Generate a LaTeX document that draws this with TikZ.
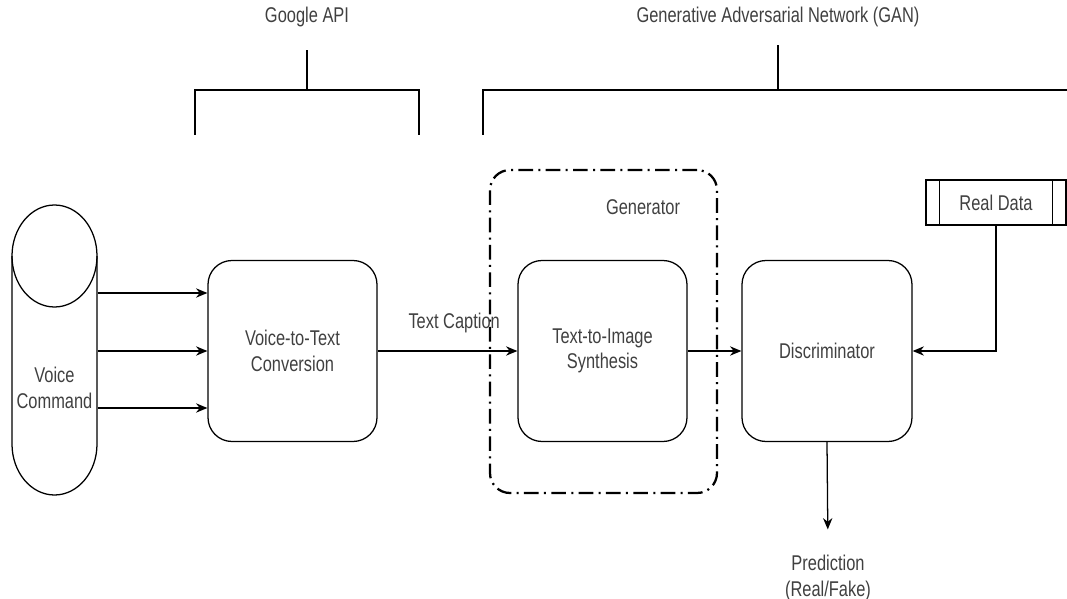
\documentclass[tikz,border=0pt]{standalone}
\usepackage{fontspec}
\setmainfont{Liberation Sans}[FakeStretch=0.77]
\usetikzlibrary{arrows.meta,positioning,calc}

\begin{document}
\begin{tikzpicture}[x=0.75pt,y=-0.75pt,line width=0.95pt,
  font=\fontsize{16}{19}\selectfont,>={Stealth[length=8.5pt,width=7pt]},
  blk/.style={draw,rounded corners=18pt,align=center,text=black!75,minimum width=126.75pt,minimum height=135.75pt},
  grp/.style={draw,line width=1.7pt,rounded corners=15pt,dash pattern=on 11pt off 4pt on 1.5pt off 4pt,minimum width=170.25pt,minimum height=242.25pt},
  lbl/.style={align=center,text=black!75,inner sep=2pt},
  proc/.style={draw,text=black!75,minimum width=105pt,minimum height=33.75pt}]
  \useasboundingbox (0,0) rectangle (1067,599);

  % voice input, drawn as an upright cylinder
  \node[minimum width=63.75pt,minimum height=217.5pt,inner sep=0pt] (voice) at (54.5,350) {};
  \draw (12,256) -- (12,444) arc[start angle=180,end angle=0,x radius=42.5,y radius=51] -- (97,256);
  \draw (54.5,256) ellipse[x radius=42.5,y radius=51];
  \node[lbl] (voicetxt) at (54.5,388) {Voice\\Command};

  % main blocks
  \node[blk] (v2t) at (292.5,351) {Voice-to-Text\\Conversion};
  \node[grp] (gen) at (603.5,331.5) {};
  \node[lbl] (genlbl) at (643,207) {Generator};
  \node[blk] (t2i) at (602.5,351) {Text-to-Image\\Synthesis};
  \node[blk,minimum width=127.5pt] (disc) at (827,351) {Discriminator};
  \node[proc] (real) at (996,202.5) {Real Data};
  \draw ([xshift=10.5pt]real.north west) -- ([xshift=10.5pt]real.south west);
  \draw ([xshift=-10.5pt]real.north east) -- ([xshift=-10.5pt]real.south east);
  \node[lbl] (pred) at (828,578) {Prediction\\(Real/Fake)};

  % connectors
  \foreach \dy [count=\i] in {-58,0,57} {
    \coordinate (in\i) at ($(v2t.west)+(0,\dy)$);
    \draw[->] (voice.east |- in\i) -- (in\i);
  }
  \draw[->] (v2t) -- node[lbl,above=11pt,xshift=5pt]{Text Caption} (t2i);
  \draw[->] (t2i) -- (disc);
  \draw[->] (real.south) |- (disc.east);
  \draw[->,shorten >=17pt] (disc.south) -- (pred.north);

  % brackets on top
  \node[lbl] (gapi) at (307,17) {Google API};
  \draw (195,135) -- (195,90) -- (419,90) -- (419,135);
  \draw (307,90) -- (307,50);
  \node[lbl] (gan) at (778,17) {Generative Adversarial Network (GAN)};
  \draw (483,135) -- (483,90) -- (1067,90);
  \draw (778,90) -- (778,45);
\end{tikzpicture}
\end{document}
